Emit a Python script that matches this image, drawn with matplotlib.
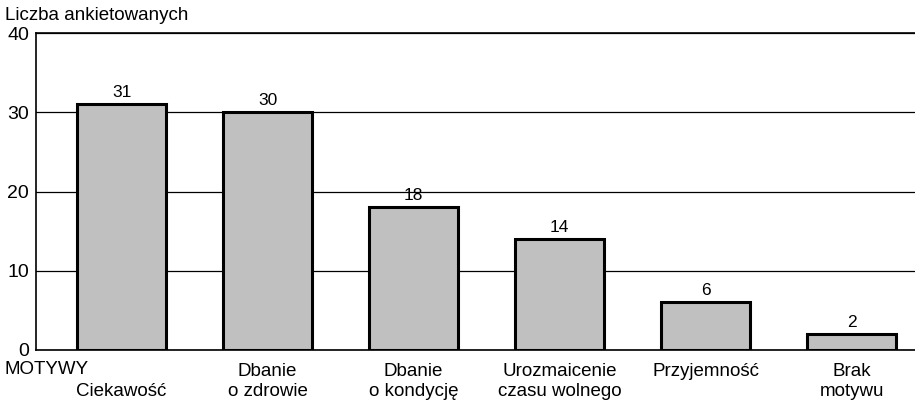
import matplotlib.pyplot as plt
from matplotlib.transforms import ScaledTranslation

plt.rcParams['font.family'] = ['Liberation Sans', 'DejaVu Sans']

categories = ["Ciekawość", "Dbanie\no zdrowie", "Dbanie\no kondycję",
              "Urozmaicenie\nczasu wolnego", "Przyjemność", "Brak\nmotywu"]
counts = [31, 30, 18, 14, 6, 2]
yticks = [0, 10, 20, 30, 40]

fig = plt.figure(figsize=(9.15, 4.01), dpi=100)
ax = fig.add_axes([36 / 915, 51 / 401, 879 / 915, 317 / 401])

x = list(range(len(categories)))
ax.bar(x, counts, width=0.61, color="#c0c0c0", edgecolor="black", linewidth=2.2, zorder=3)

for xi, v in zip(x, counts):
    ax.text(xi, v + 0.5, str(v), ha="center", va="bottom", fontsize=12.5)

ax.set_xlim(-0.586, 5.435)
ax.set_ylim(0, 40)
ax.set_yticks(yticks)
ax.set_yticklabels([str(t) for t in yticks], fontsize=14)
ax.tick_params(axis="y", length=0, pad=5)
ax.grid(axis="y", color="black", linewidth=0.9, zorder=0)

ax.set_xticks(x)
ax.set_xticklabels(categories, fontsize=13.5, linespacing=1.27)
ax.tick_params(axis="x", length=0, pad=9)
# "Ciekawość" sits on the second line, next to MOTYWY
first = ax.get_xticklabels()[0]
first.set_transform(first.get_transform() + ScaledTranslation(0, -0.205, fig.dpi_scale_trans))

ax.spines["right"].set_visible(False)
for s in ["top", "left", "bottom"]:
    ax.spines[s].set_linewidth(1.2)

fig.text(5 / 915, 1 - 15 / 401, "Liczba ankietowanych", fontsize=13.5, va="center", ha="left")
fig.text(5 / 915, 1 - 369 / 401, "MOTYWY", fontsize=13.5, va="center", ha="left")

fig.savefig("out.png", dpi=100)
